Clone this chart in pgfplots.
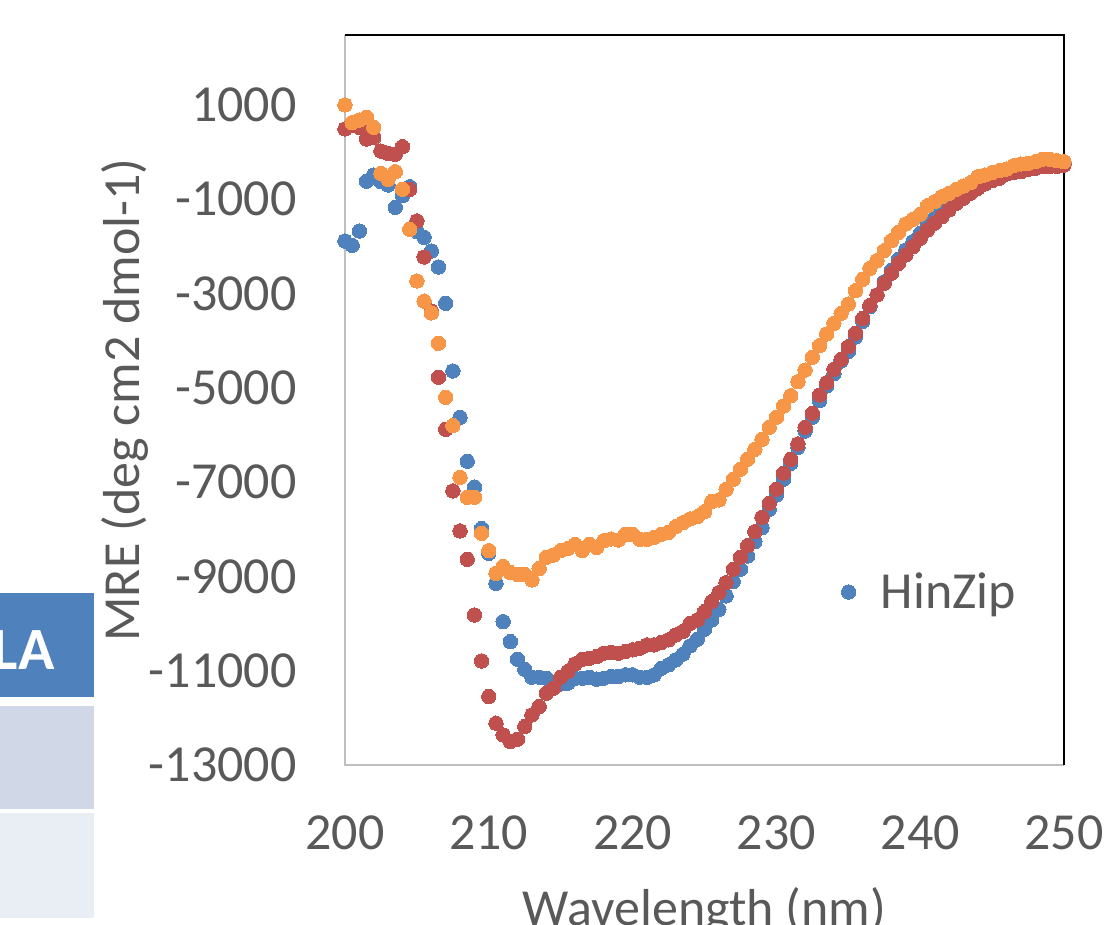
\documentclass[border=0pt]{standalone}
\usepackage{fontspec}
\setmainfont{Carlito}
\usepackage{pgfplots}
\usepackage{pgfplotstable}
\pgfplotsset{compat=1.18}

\definecolor{hzblue}{HTML}{4F81BD}
\definecolor{hzred}{HTML}{C0504D}
\definecolor{hzorange}{HTML}{F79646}
\definecolor{txtgrey}{HTML}{595959}
\definecolor{axgrey}{HTML}{BFBFBF}
\definecolor{cellgrey}{HTML}{D0D8E8}
\definecolor{celllight}{HTML}{E9EDF4}

% wavelength (nm), MRE of the three samples
\pgfplotstableread{
wl    blue    red    orange
200.0 -1885   491    1000
200.5 -1976   576    625
201.0 -1673   527    682
201.5 -618    279    739
202.0 -485    307    527
202.5 -627    24     -449
203.0 -697    -25    -576
203.5 -1170   -46    -415
204.0 -921    116    -788
204.5 -733    -788   -1637
205.0 -1687   -1460  -2733
205.5 -1806   -2224  -3160
206.0 -2097   -3369  -3410
206.5 -2436   -4776  -4055
207.0 -3206   -5879  -5200
207.5 -4642   -7187  -5800
208.0 -5624   -8035  -6897
208.5 -6556   -8636  -7321
209.0 -7107   -9817  -7321
209.5 -7985   -10793 -8085
210.0 -8509   -11548 -8453
210.5 -9145   -12113 -8932
211.0 -9959   -12362 -8791
211.5 -10383  -12503 -8918
212.0 -10757  -12453 -8960
212.5 -10969  -12185 -8960
213.0 -11138  -11937 -9075
213.5 -11138  -11760 -8833
214.0 -11159  -11477 -8593
214.5 -11265  -11371 -8545
215.0 -11279  -11138 -8453
215.5 -11265  -11018 -8404
216.0 -11159  -10856 -8320
216.5 -11159  -10757 -8453
217.0 -11138  -10735 -8320
217.5 -11180  -10700 -8383
218.0 -11159  -10629 -8242
218.5 -11124  -10615 -8206
219.0 -11124  -10629 -8227
219.5 -11088  -10594 -8107
220.0 -11088  -10558 -8107
220.5 -11138  -10523 -8213
221.0 -11138  -10452 -8213
221.5 -11088  -10452 -8170
222.0 -10947  -10403 -8107
222.5 -10876  -10346 -8064
223.0 -10770  -10240 -7944
223.5 -10650  -10169 -7859
224.0 -10474  -9993  -7781
224.5 -10332  -9922  -7732
225.0 -10120  -9746  -7626
225.5 -9923   -9535  -7413
226.0 -9697   -9344  -7378
226.5 -9414   -9132  -7151
227.0 -9110   -8848  -6939
227.5 -8848   -8593  -6727
228.0 -8566   -8347  -6515
228.5 -8262   -8050  -6303
229.0 -7965   -7745  -6091
229.5 -7576   -7448  -5836
230.0 -7272   -7151  -5624
230.5 -6939   -6812  -5384
231.0 -6600   -6515  -5166
231.5 -6260   -6190  -4869
232.0 -5915   -5836  -4621
232.5 -5624   -5539  -4351
233.0 -5272   -5151  -4105
233.5 -4960   -4890  -3857
234.0 -4700   -4607  -3630
234.5 -4430   -4394  -3418
235.0 -4230   -4127  -3221
235.5 -3920   -3842  -2939
236.0 -3590   -3530  -2697
236.5 -3280   -3250  -2464
237.0 -3030   -3030  -2302
237.5 -2750   -2782  -2090
238.0 -2510   -2570  -1878
238.5 -2270   -2358  -1700
239.0 -2075   -2182  -1524
239.5 -1899   -2005  -1424
240.0 -1720   -1827  -1318
240.5 -1545   -1651  -1136
241.0 -1390   -1509  -1051
241.5 -1250   -1369  -945
242.0 -1120   -1227  -873
242.5 -990    -1085  -788
243.0 -880    -979   -718
243.5 -780    -873   -648
244.0 -690    -767   -521
244.5 -610    -676   -485
245.0 -545    -606   -436
245.5 -490    -555   -393
246.0 -420    -463   -357
246.5 -385    -436   -287
247.0 -360    -415   -251
247.5 -320    -364   -237
248.0 -295    -343   -203
248.5 -265    -308   -152
249.0 -260    -308   -152
249.5 -255    -301   -181
250.0 -235    -273   -203
}\cddata

\begin{document}
\begin{tikzpicture}
\path[use as bounding box] (-172.5pt,-80pt) rectangle (382pt,382.5pt);
\clip (-172.5pt,-80pt) rectangle (382pt,382.5pt);

% piece of a table to the left of the chart
\fill[hzblue] (-180pt,34pt) rectangle (-125.5pt,86pt);
\fill[cellgrey] (-180pt,-22pt) rectangle (-125.5pt,29.5pt);
\fill[celllight] (-180pt,-76.5pt) rectangle (-125.5pt,-24pt);
\node[anchor=east, inner sep=0pt, text=white, font=\fontsize{30}{36}\selectfont\bfseries] at (-145pt,57.5pt) {LA};

\begin{axis}[
  scale only axis,
  width=359.5pt, height=365pt,
  xmin=200, xmax=250, ymin=-13000, ymax=2485,
  scaled x ticks=false, scaled y ticks=false,
  xtick={200,210,...,250},
  xticklabels={200,210,220,230,240,250},
  ytick={-13000,-11000,...,1000},
  yticklabels={-13000,-11000,-9000,-7000,-5000,-3000,-1000,1000},
  major tick length=0pt,
  axis line style={draw=none},
  tick label style={font=\fontsize{26}{31}\selectfont, text=txtgrey, inner sep=0pt},
  xticklabel style={anchor=north, yshift=-25pt},
  yticklabel style={anchor=east, xshift=-24pt},
  xlabel={Wavelength (nm)},
  ylabel={MRE (deg cm2 dmol-1)},
  every axis x label/.style={at={(axis description cs:0.5,-0.167)}, anchor=north, inner sep=0pt, font=\fontsize{26}{31}\selectfont, text=txtgrey},
  every axis y label/.style={at={(axis description cs:-0.306,0.5)}, rotate=90, anchor=center, inner sep=0pt, font=\fontsize{26}{31}\selectfont, text=txtgrey},
  clip=false,
  legend style={at={(axis cs:234.5,-9330)}, anchor=west, draw=none, fill=none, inner sep=0pt,
    column sep=12.5pt, nodes={inner sep=0pt}, font=\fontsize{26}{31}\selectfont, text=txtgrey},
  legend image code/.code={\draw[#1] plot coordinates {(0pt,0pt)};},
  cdmark/.style={only marks, mark=*, mark size=3.6pt, color=#1, mark options={solid, draw=#1, fill=#1, line width=0pt}},
]
\draw[axgrey, line width=0.7pt] (rel axis cs:0,1) -- (rel axis cs:0,0) -- (rel axis cs:1,0);
\draw[black, line width=0.9pt] (rel axis cs:0,1) -- (rel axis cs:1,1) -- (rel axis cs:1,0);

\addplot[cdmark=hzblue] table[x=wl, y=blue] {\cddata};
\addlegendentry{HinZip}
\addplot[forget plot, cdmark=hzred] table[x=wl, y=red] {\cddata};
\addplot[forget plot, cdmark=hzorange] table[x=wl, y=orange] {\cddata};
\end{axis}
\end{tikzpicture}
\end{document}
